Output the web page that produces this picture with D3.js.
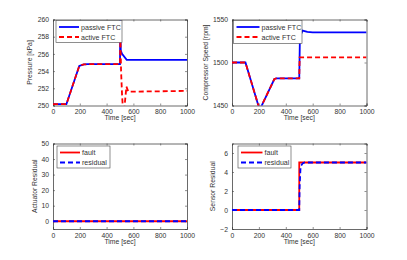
<!DOCTYPE html>
<html>
<head>
<meta charset="utf-8">
<script src="https://cdn.jsdelivr.net/npm/d3@7"></script>
<style>
  body { margin: 0; background: #fff; }
  svg { display: block; font-family: "Liberation Sans", Arial, sans-serif; }
  .tick text { font-size: 6.8px; fill: #333; }
  .lbl { font-size: 6.8px; fill: #333; }
  .leg { font-size: 7.1px; fill: #333; }
</style>
</head>
<body>
<div id="chart"></div>
<script>
// time axis ticks
var timeTicks = [0, 200, 400, 600, 800, 1000];

// pressure [kPa]
var pressurePassiveT = [0, 100, 196, 230, 260, 500, 502, 506, 515, 550, 1000];
var pressurePassiveV = [250.15, 250.15, 254.6, 254.78, 254.8, 254.8, 259.9, 256.4, 256.0, 255.3, 255.3];
var pressureActiveT = [0, 100, 196, 230, 260, 500, 503, 508, 516, 524, 532, 548, 562, 1000];
var pressureActiveV = [250.15, 250.15, 254.6, 254.78, 254.8, 254.8, 258.0, 254.0, 251.0, 249.2, 249.6, 252.2, 251.6, 251.7];

// compressor speed [rpm]
var speedPassiveT = [0, 100, 196, 208, 221, 315, 330, 500, 505, 525, 560, 600, 1000];
var speedPassiveV = [1500, 1500, 1450, 1444, 1450, 1480.8, 1481.5, 1481.5, 1530, 1537, 1535.5, 1535, 1535];
var speedActiveT = [0, 100, 196, 208, 221, 315, 330, 500, 503, 1000];
var speedActiveV = [1500, 1500, 1450, 1444, 1450, 1480.8, 1481.5, 1481.5, 1506, 1506];

// actuator residual
var actFaultT = [0, 1000];
var actFaultV = [0, 0];
var actResidT = [0, 1000];
var actResidV = [0, 0];

// sensor residual
var senFaultT = [0, 500, 500, 1000];
var senFaultV = [0, 0, 5, 5];
var senResidT = [0, 500, 503, 510, 525, 540, 1000];
var senResidV = [0, 0, 2.5, 4.6, 4.9, 5, 5];

var width = 407, height = 260;
var svg = d3.select("#chart").append("svg")
    .attr("width", width)
    .attr("height", height);

function zip(ts, vs) {
  return ts.map(function(t, i) { return [t, vs[i]]; });
}

var panels = [
  { id: "p1", left: 53, right: 187, top: 19.5, bottom: 105.5,
    yDomain: [250, 260], yTicks: [250, 252, 254, 256, 258, 260], ylabel: "Pressure [kPa]", ylabelX: 32,
    series: [
      { data: zip(pressurePassiveT, pressurePassiveV), color: "#0000ff", dash: null, name: "passive FTC" },
      { data: zip(pressureActiveT, pressureActiveV), color: "#ff0000", dash: "5,3", name: "active FTC" }
    ],
    legend: { x: 56, y: 20.5, w: 66, h: 22, len: 20 } },
  { id: "p2", left: 232, right: 366.5, top: 19.5, bottom: 105.5,
    yDomain: [1450, 1550], yTicks: [1450, 1500, 1550], ylabel: "Compressor Speed [rpm]", ylabelX: 207.5,
    series: [
      { data: zip(speedPassiveT, speedPassiveV), color: "#0000ff", dash: null, name: "passive FTC" },
      { data: zip(speedActiveT, speedActiveV), color: "#ff0000", dash: "5,3", name: "active FTC" }
    ],
    legend: { x: 233.5, y: 20.5, w: 68.5, h: 23, len: 23 } },
  { id: "p3", left: 53, right: 187, top: 143.5, bottom: 229,
    yDomain: [-5, 50], yTicks: [0, 10, 20, 30, 40, 50], ylabel: "Actuator Residual", ylabelX: 36.5,
    series: [
      { data: zip(actFaultT, actFaultV), color: "#ff0000", dash: null, name: "fault" },
      { data: zip(actResidT, actResidV), color: "#0000ff", dash: "5,3", name: "residual" }
    ],
    legend: { x: 57, y: 146, w: 53, h: 22, len: 20 } },
  { id: "p4", left: 232, right: 366.5, top: 143.5, bottom: 229,
    yDomain: [-2, 7], yTicks: [-2, 0, 2, 4, 6], ylabel: "Sensor Residual", ylabelX: 215,
    series: [
      { data: zip(senFaultT, senFaultV), color: "#ff0000", dash: null, name: "fault" },
      { data: zip(senResidT, senResidV), color: "#0000ff", dash: "5,3", name: "residual" }
    ],
    legend: { x: 238, y: 146, w: 53, h: 22, len: 21.5 } }
];

panels.forEach(function(p) {
  var x = d3.scaleLinear().domain([0, 1000]).range([p.left, p.right]);
  var y = d3.scaleLinear().domain(p.yDomain).range([p.bottom, p.top]);
  var w = p.right - p.left, h = p.bottom - p.top;

  svg.append("clipPath").attr("id", "clip-" + p.id)
    .append("rect").attr("x", p.left).attr("y", p.top).attr("width", w).attr("height", h);

  // axes (inner ticks, on all sides like matlab box)
  var xAxis = d3.axisBottom(x).tickValues(timeTicks).tickSize(-2).tickPadding(4).tickFormat(d3.format("d"));
  var xTop = d3.axisTop(x).tickValues(timeTicks).tickSize(-2).tickFormat("");
  var yAxis = d3.axisLeft(y).tickValues(p.yTicks).tickSize(-2).tickPadding(4).tickFormat(d3.format("d"));
  var yRight = d3.axisRight(y).tickValues(p.yTicks).tickSize(-2).tickFormat("");

  [[xAxis, "translate(0," + p.bottom + ")"], [xTop, "translate(0," + p.top + ")"],
   [yAxis, "translate(" + p.left + ",0)"], [yRight, "translate(" + p.right + ",0)"]].forEach(function(a) {
    var g = svg.append("g").attr("transform", a[1]).call(a[0]);
    g.select(".domain").attr("stroke", "#444").attr("stroke-width", 0.8);
    g.selectAll(".tick line").attr("stroke", "#444").attr("stroke-width", 0.6);
  });

  var line = d3.line()
      .x(function(d) { return x(d[0]); })
      .y(function(d) { return y(d[1]); });

  p.series.forEach(function(s) {
    svg.append("path")
      .datum(s.data)
      .attr("clip-path", "url(#clip-" + p.id + ")")
      .attr("fill", "none")
      .attr("stroke", s.color)
      .attr("stroke-width", 1.8)
      .attr("stroke-dasharray", s.dash)
      .attr("d", line);
  });

  // labels
  svg.append("text").attr("class", "lbl")
    .attr("x", (p.left + p.right) / 2).attr("y", p.bottom + 14.5)
    .attr("text-anchor", "middle").text("Time [sec]");
  svg.append("text").attr("class", "lbl")
    .attr("transform", "translate(" + p.ylabelX + "," + ((p.top + p.bottom) / 2) + ") rotate(-90)")
    .attr("text-anchor", "middle").text(p.ylabel);

  // legend
  var lg = svg.append("g").attr("transform", "translate(" + p.legend.x + "," + p.legend.y + ")");
  lg.append("rect").attr("width", p.legend.w).attr("height", p.legend.h)
    .attr("fill", "#fff").attr("stroke", "#444").attr("stroke-width", 0.6);
  p.series.forEach(function(s, i) {
    var cy = 6.5 + i * 10;
    lg.append("line").attr("x1", 3).attr("x2", 3 + p.legend.len).attr("y1", cy).attr("y2", cy)
      .attr("stroke", s.color).attr("stroke-width", 1.8).attr("stroke-dasharray", s.dash);
    lg.append("text").attr("class", "leg").attr("x", 5 + p.legend.len).attr("y", cy + 2.5).text(s.name);
  });
});
</script>
</body>
</html>
